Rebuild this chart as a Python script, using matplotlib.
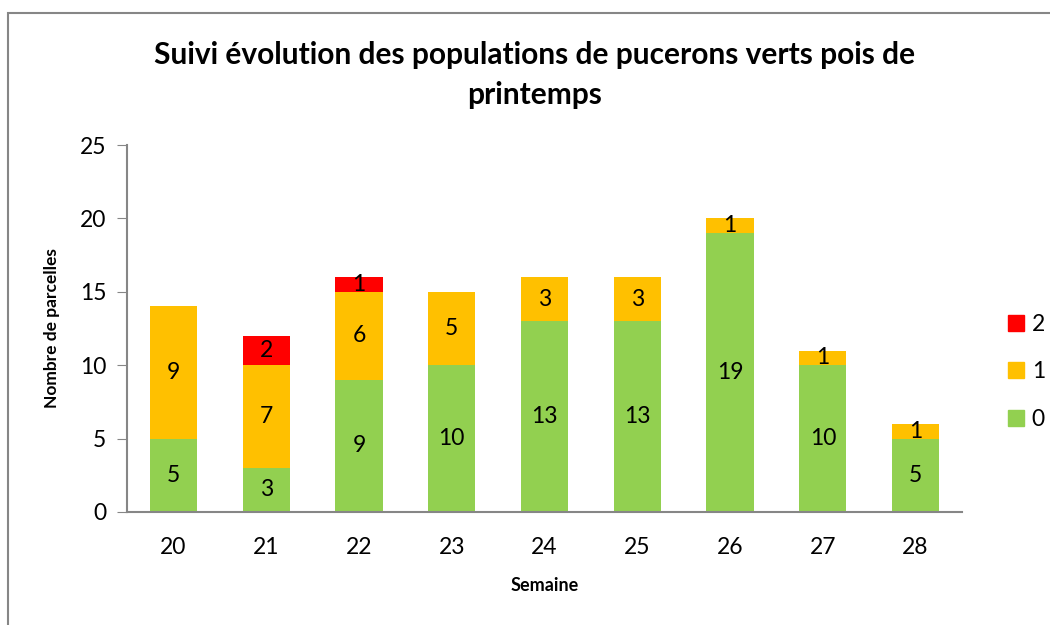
import numpy as np
import matplotlib.pyplot as plt
from matplotlib.patches import Rectangle
from matplotlib.lines import Line2D

plt.rcParams['font.family'] = ['Lato', 'DejaVu Sans']

semaines = ["20", "21", "22", "23", "24", "25", "26", "27", "28"]
classe0 = np.array([5, 3, 9, 10, 13, 13, 19, 10, 5])
classe1 = np.array([9, 7, 6, 5, 3, 3, 1, 1, 1])
classe2 = np.array([0, 2, 1, 0, 0, 0, 0, 0, 0])

c0, c1, c2 = "#92D050", "#FFC000", "#FF0000"
axis_grey = "#868686"

fig = plt.figure(figsize=(10.5, 6.25), dpi=100)
ax = fig.add_axes([127 / 1050, 1 - 512 / 625, (962 - 127) / 1050, (512 - 145) / 625])

# outer chart border (cropped on right and bottom)
fig.patches.append(Rectangle((8 / 1050, -0.1), 1.2, 0.1 + 1 - 13 / 625,
                             transform=fig.transFigure, fill=False,
                             edgecolor=axis_grey, linewidth=1.5))

x = np.arange(len(semaines))
w = 0.51
b0 = ax.bar(x, classe0, w, color=c0, label="0")
b1 = ax.bar(x, classe1, w, bottom=classe0, color=c1, label="1")
b2 = ax.bar(x, classe2, w, bottom=classe0 + classe1, color=c2, label="2")

for vals, base in [(classe0, np.zeros_like(classe0)), (classe1, classe0), (classe2, classe0 + classe1)]:
    for i, v in enumerate(vals):
        if v > 0:
            ax.text(x[i], base[i] + v / 2, str(v), ha="center", va="center", fontsize=16.5)

ax.set_xlim(-0.5, len(semaines) - 0.5)
ax.set_ylim(0, 25)
ax.set_yticks(range(0, 26, 5))
ax.set_xticks(x)
ax.set_xticklabels(semaines)
ax.tick_params(axis="x", length=0, labelsize=16.5, pad=18)
ax.tick_params(axis="y", length=7, color=axis_grey, labelsize=16.5, pad=8)

for s in ["top", "right"]:
    ax.spines[s].set_visible(False)
for s in ["left", "bottom"]:
    ax.spines[s].set_color(axis_grey)
    ax.spines[s].set_linewidth(1.5)

ax.set_xlabel("Semaine", fontsize=13, fontweight="bold", labelpad=14)
ax.set_ylabel("Nombre de parcelles", fontsize=12.5, fontweight="bold", labelpad=14)

fig.text(535 / 1050, 1 - 75 / 625,
         "Suivi évolution des populations de pucerons verts pois de\nprintemps",
         ha="center", va="center", fontsize=21.5, fontweight="bold", linespacing=1.5)

handles = [Line2D([], [], marker="s", linestyle="none", markersize=11, color=c) for c in (c2, c1, c0)]
leg = fig.legend(handles, ["2", "1", "0"], loc="center left",
                 bbox_to_anchor=(986 / 1050, 1 - 372 / 625), frameon=False,
                 fontsize=16.5, handlelength=0.8, handletextpad=0.3, labelspacing=1.15)

fig.savefig("out.png", dpi=100)
